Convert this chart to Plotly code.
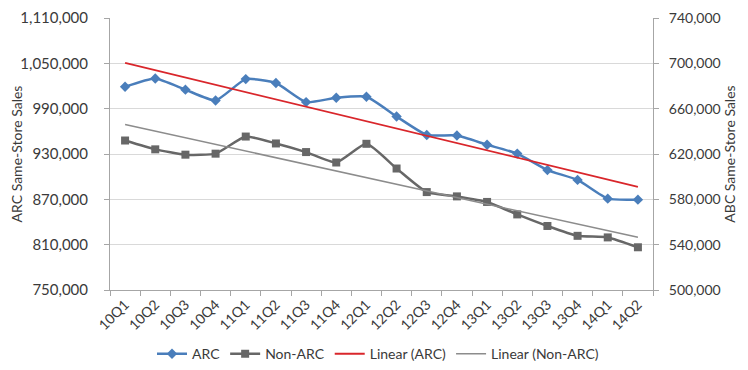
import numpy as np
import plotly.graph_objects as go

quarters = ["10Q1", "10Q2", "10Q3", "10Q4", "11Q1", "11Q2", "11Q3", "11Q4", "12Q1",
            "12Q2", "12Q3", "12Q4", "13Q1", "13Q2", "13Q3", "13Q4", "14Q1", "14Q2"]
arc_sales = [1019000, 1030000, 1015200, 1000900, 1029100, 1023900, 998700, 1004400, 1005700,
             979600, 955200, 954400, 942200, 930500, 908700, 895700, 870900, 869600]
non_arc_sales = [631900, 624100, 619400, 620300, 635400, 629300, 621700, 612500, 629000,
                 607200, 586400, 582600, 577700, 566700, 556500, 547800, 546400, 537700]

left_ticks = [750000, 810000, 870000, 930000, 990000, 1050000, 1110000]
right_ticks = [500000, 540000, 580000, 620000, 660000, 700000, 740000]

# Linear trendlines (least squares, as in the source chart's "Linear" trendlines)
xi = np.arange(len(quarters))
arc_fit = np.polyval(np.polyfit(xi, arc_sales, 1), xi)
non_fit = np.polyval(np.polyfit(xi, non_arc_sales, 1), xi)

FONT = "Lato, 'Open Sans', sans-serif"
BLUE = "#4A7EBB"
DGRAY = "#676767"
RED = "#D9262B"
LGRAY = "#8C8C8C"
TXT = "#3A3A3A"

fig = go.Figure()
fig.add_trace(go.Scatter(x=quarters, y=arc_sales, name="ARC", mode="lines+markers",
                         line=dict(color=BLUE, width=2.5, shape="spline", smoothing=0.5),
                         marker=dict(symbol="diamond", size=8, color=BLUE)))
fig.add_trace(go.Scatter(x=quarters, y=non_arc_sales, name="Non-ARC", mode="lines+markers",
                         yaxis="y2",
                         line=dict(color=DGRAY, width=2.5, shape="spline", smoothing=0.5),
                         marker=dict(symbol="square", size=8, color=DGRAY)))
fig.add_trace(go.Scatter(x=quarters, y=arc_fit, name="Linear (ARC)", mode="lines",
                         line=dict(color=RED, width=1.8)))
fig.add_trace(go.Scatter(x=quarters, y=non_fit, name="Linear (Non-ARC)", mode="lines",
                         yaxis="y2", line=dict(color=LGRAY, width=1.5)))

# The page body adds an 8px offset, so the figure is sized 740x362 to fill the 748x370 window
fig.update_layout(
    width=740, height=362,
    margin=dict(l=102, r=95, t=10, b=80),
    paper_bgcolor="white", plot_bgcolor="white",
    font=dict(family=FONT, size=14, color=TXT),
    showlegend=True,
    legend=dict(orientation="h", x=0.5, xref="container", xanchor="center",
                y=0.088, yref="container", yanchor="top",
                font=dict(size=14, color=TXT), traceorder="normal",
                itemwidth=30, tracegroupgap=0),
    xaxis=dict(type="category", range=[-0.5, 17.5], tickangle=-45, automargin=False,
               showline=True, linecolor="#A6A6A6", linewidth=1,
               ticks="outside", tickson="boundaries", ticklen=5, tickcolor="#A6A6A6",
               showgrid=False, tickfont=dict(size=14, color=TXT)),
    yaxis=dict(range=[749999, 1110001], tickvals=left_ticks, tickformat=",d", automargin=False,
               ticklabeloverflow="allow",
               showline=True, linecolor="#A6A6A6", linewidth=1,
               ticks="outside", ticklen=5, tickcolor="#A6A6A6", ticklabelstandoff=13,
               showgrid=True, gridcolor="#D9D9D9", gridwidth=1, zeroline=False,
               title=dict(text="ARC Same-Store Sales", font=dict(size=14, color=TXT), standoff=2),
               tickfont=dict(size=15, color=TXT)),
    yaxis2=dict(range=[499999, 740001], tickvals=right_ticks, tickformat=",d", automargin=False,
                ticklabeloverflow="allow", overlaying="y", side="right",
                showline=True, linecolor="#A6A6A6", linewidth=1,
                ticks="outside", ticklen=5, tickcolor="#A6A6A6", ticklabelstandoff=7,
                showgrid=False, zeroline=False,
                title=dict(text="ABC Same-Store Sales", font=dict(size=14, color=TXT), standoff=1),
                tickfont=dict(size=14, color=TXT)),
)

fig.write_html("out.html")
